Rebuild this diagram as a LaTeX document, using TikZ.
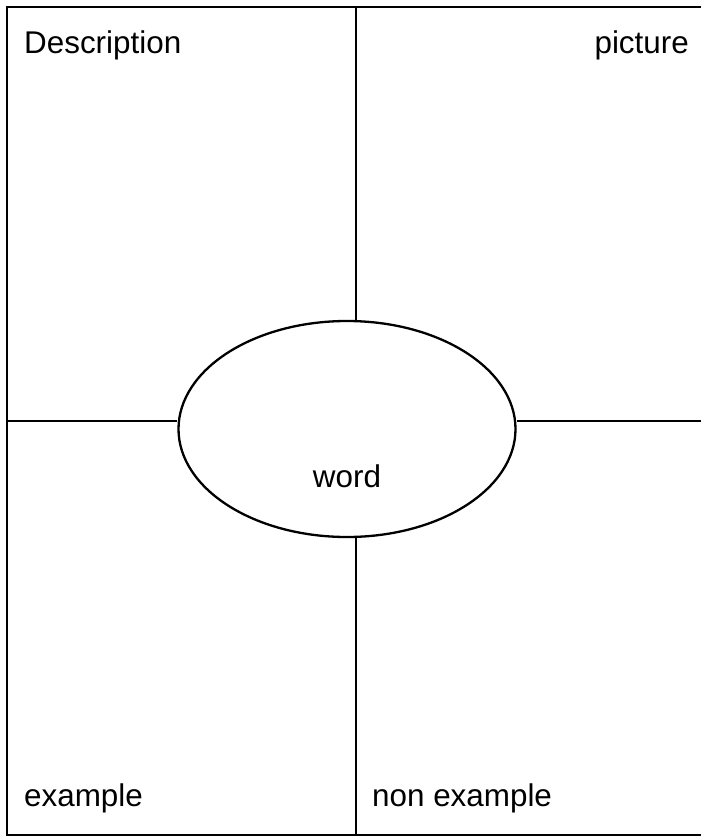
\documentclass[tikz,border=0pt]{standalone}
\usepackage{fontspec}
\setmainfont{Liberation Sans}
\usetikzlibrary{shapes.geometric}
\begin{document}
\begin{tikzpicture}[x=1pt,y=-1pt,
  frame/.style={line width=2.3pt},
  lbl/.style={font=\fontsize{31.4}{37}\selectfont, inner sep=0pt}]
\useasboundingbox (0,0) rectangle (701,838);
\fill[white] (0,0) rectangle (701,838);
\coordinate (tr) at (705,7);
\coordinate (tl) at (7,7);
\coordinate (bl) at (7,835);
\coordinate (br) at (705,835);
\draw[frame] (tr) -- (tl) -- (bl) -- (br);
\node[draw, ellipse, frame, minimum width=337pt, minimum height=216pt, inner sep=0pt] (ell) at (347,429) {};
\coordinate (vtop) at (356,7);
\coordinate (vbot) at (356,835);
\coordinate (hleft) at (7,421);
\coordinate (hright) at (705,421);
\draw[frame] (vtop) -- (vtop |- ell.north);
\draw[frame] (vbot) -- (vbot |- ell.south);
\draw[frame] (hleft) -- (hleft -| ell.west);
\draw[frame] (hright) -- (hright -| ell.east);
\node[lbl, anchor=base west] (desc) at (24,53) {Description};
\node[lbl, anchor=base east] (pic) at (689,53) {picture};
\node[lbl, anchor=base] (word) at (347,487) {word};
\node[lbl, anchor=base west] (ex) at (24,806) {example};
\node[lbl, anchor=base west] (nonex) at (372,806) {non example};
\end{tikzpicture}
\end{document}
